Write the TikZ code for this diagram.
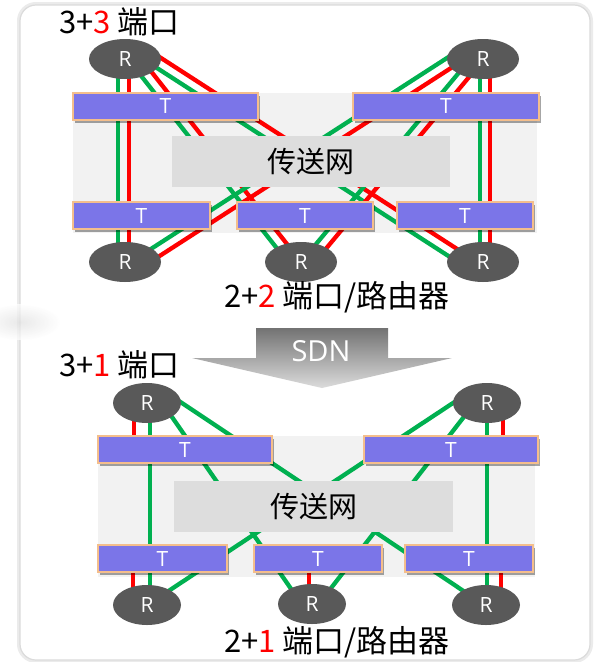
\documentclass[tikz,border=0pt]{standalone}
\usepackage{fontspec}
\setmainfont{Open Sans}
\newfontfamily\cjk{Noto Sans CJK SC}
\usetikzlibrary{calc,shapes.geometric,shadows}
\definecolor{tfill}{RGB}{123,117,232}
\definecolor{tborder}{RGB}{244,190,140}
\definecolor{rfill}{RGB}{89,89,89}
\definecolor{gl}{RGB}{0,176,80}
\definecolor{rl}{RGB}{255,0,0}
\definecolor{bgg}{RGB}{242,242,242}
\definecolor{netg}{RGB}{221,221,221}
\pgfdeclarelayer{bg}\pgfdeclarelayer{ln}\pgfsetlayers{bg,ln,main}
\tikzset{
 rnode/.style={ellipse, fill=rfill, inner sep=0pt, text=white, font=\fontsize{21}{21}\selectfont},
 tbox/.style={rectangle, fill=tfill, draw=tborder, line width=1.2pt, inner sep=0pt, text=white,
   font=\fontsize{21}{21}\selectfont, minimum height=27pt,
   drop shadow={shadow xshift=2pt, shadow yshift=-2.5pt, opacity=0.35, fill=black}},
 netbox/.style={fill=netg},
 backrect/.style={fill=bgg},
 gline/.style={draw=gl, line width=4.3pt, shorten <=-8pt, shorten >=-8pt},
 rline/.style={draw=rl, line width=4.3pt, shorten <=-8pt, shorten >=-8pt},
 rstub/.style={draw=rl, line width=4.8pt},
 title/.style={anchor=west, inner sep=0pt, font=\cjk\fontsize{31}{33}\selectfont},
 nettext/.style={inner sep=0pt, font=\cjk\fontsize{29}{31}\selectfont},
}
\newcommand\pairln[2]{%
 \draw[gline] ($(#1)!5.3pt!-90:(#2)$) -- ($(#2)!5.3pt!90:(#1)$);
 \draw[rline] ($(#1)!5.3pt!90:(#2)$) -- ($(#2)!5.3pt!-90:(#1)$);}
\begin{document}
\begin{tikzpicture}[x=1pt,y=-1pt]
\useasboundingbox (0,0) rectangle (594,662);
\begin{pgfonlayer}{bg}
\fill[white] (0,0) rectangle (594,662);
\draw[black!8, line width=4pt, rounded corners=17pt] (19,4) rectangle (591,661);
\draw[black!14, line width=1.2pt, fill=white, rounded corners=16pt] (20,5) rectangle (590,660);
\shade[inner color=black!12, outer color=white, opacity=0.7] (20,322) ellipse (40 and 18);
% grey backgrounds
\fill[backrect] (73,93) rectangle (537,233);
\fill[backrect] (98,436) rectangle (535,577);
\end{pgfonlayer}

% ---------- upper diagram ----------
\node[netbox, minimum width=278pt, minimum height=51pt, inner sep=0pt] (unet) at (311,161.5) {};
\node[nettext] (unett) at (311,161) {传送网};
\node[tbox, minimum width=185pt] (uT1) at (165.5,106.5) {T};
\node[tbox, minimum width=186pt] (uT2) at (446,106.5) {T};
\node[tbox, minimum width=137pt] (uT3) at (141.5,215.5) {T};
\node[tbox, minimum width=136pt] (uT4) at (305,215.5) {T};
\node[tbox, minimum width=136pt] (uT5) at (465,215.5) {T};
\node[rnode, minimum width=72pt, minimum height=40pt] (uR1) at (125,59) {R};
\node[rnode, minimum width=72pt, minimum height=40pt] (uR2) at (483,59) {R};
\node[rnode, minimum width=72pt, minimum height=40pt] (uR3) at (125,262) {R};
\node[rnode, minimum width=72pt, minimum height=40pt] (uR4) at (301,262) {R};
\node[rnode, minimum width=72pt, minimum height=40pt] (uR5) at (483,262) {R};

\coordinate (p1a) at (123.5,72);  \coordinate (p1b) at (123.5,250);
\coordinate (p2a) at (485,72);    \coordinate (p2b) at (485,250);
\coordinate (p3a) at (159,63);    \coordinate (p3b) at (452,252);
\coordinate (p4a) at (148,76);    \coordinate (p4b) at (281,245);
\coordinate (p5a) at (449,63);    \coordinate (p5b) at (156,252);
\coordinate (p6a) at (463,76);    \coordinate (p6b) at (323,244);
\begin{pgfonlayer}{ln}
\pairln{p1a}{p1b}
\pairln{p2a}{p2b}
\pairln{p3a}{p3b}
\pairln{p4a}{p4b}
\pairln{p5a}{p5b}
\pairln{p6a}{p6b}
\end{pgfonlayer}

\node[title] (t1) at (59,22) {3+{\color{rl}3} 端口};
\node[title] (t2) at (224,297) {2+{\color{rl}2} 端口/路由器};

% ---------- SDN arrow ----------
\shade[top color=black!55, bottom color=black!14] (256,328) -- (388,328) -- (388,358) -- (452,358) -- (322,388) -- (192,358) -- (256,358) -- cycle;
\node[text=white, inner sep=0pt, font=\fontsize{29}{29}\selectfont] (sdn) at (321,351) {SDN};

% ---------- lower diagram ----------
\node[netbox, minimum width=279pt, minimum height=51pt, inner sep=0pt] (lnet) at (313.5,506.5) {};
\node[nettext] (lnett) at (313.5,506) {传送网};
\node[tbox, minimum width=174pt] (lT1) at (185,449.5) {T};
\node[tbox, minimum width=174pt] (lT2) at (451,449.5) {T};
\node[tbox, minimum width=129pt] (lT3) at (162.5,558.5) {T};
\node[tbox, minimum width=128pt] (lT4) at (318,558.5) {T};
\node[tbox, minimum width=128pt] (lT5) at (469,558.5) {T};
\node[rnode, minimum width=68pt, minimum height=40pt] (lR1) at (147,403) {R};
\node[rnode, minimum width=68pt, minimum height=40pt] (lR2) at (487,403) {R};
\node[rnode, minimum width=68pt, minimum height=40pt] (lR3) at (147,605) {R};
\node[rnode, minimum width=68pt, minimum height=40pt] (lR4) at (312,604) {R};
\node[rnode, minimum width=68pt, minimum height=40pt] (lR5) at (486,605) {R};

\coordinate (q1a) at (150,415);  \coordinate (q1b) at (150,592);
\coordinate (q2a) at (487,415);  \coordinate (q2b) at (487,592);
\coordinate (q3a) at (182,403);  \coordinate (q3b) at (462,590);
\coordinate (q4a) at (172,417);  \coordinate (q4b) at (287,583);
\coordinate (q5a) at (453,403);  \coordinate (q5b) at (170,590);
\coordinate (q6a) at (463,418);  \coordinate (q6b) at (335,583);
\coordinate (s1a) at (134,415);  \coordinate (s1b) at (134,440);
\coordinate (s2a) at (503,415);  \coordinate (s2b) at (503,440);
\coordinate (s3a) at (133,568);  \coordinate (s3b) at (133,595);
\coordinate (s4a) at (309,568);  \coordinate (s4b) at (309,592);
\coordinate (s5a) at (501,568);  \coordinate (s5b) at (501,595);
\begin{pgfonlayer}{ln}
\draw[gline] (q1a) -- (q1b);
\draw[gline] (q2a) -- (q2b);
\draw[gline] (q3a) -- (q3b);
\draw[gline] (q4a) -- (q4b);
\draw[gline] (q5a) -- (q5b);
\draw[gline] (q6a) -- (q6b);
\draw[rstub] (s1a) -- (s1b);
\draw[rstub] (s2a) -- (s2b);
\draw[rstub] (s3a) -- (s3b);
\draw[rstub] (s4a) -- (s4b);
\draw[rstub] (s5a) -- (s5b);
\end{pgfonlayer}

\node[title] (t3) at (59,365) {3+{\color{rl}1} 端口};
\node[title] (t4) at (224,642) {2+{\color{rl}1} 端口/路由器};
\end{tikzpicture}
\end{document}
